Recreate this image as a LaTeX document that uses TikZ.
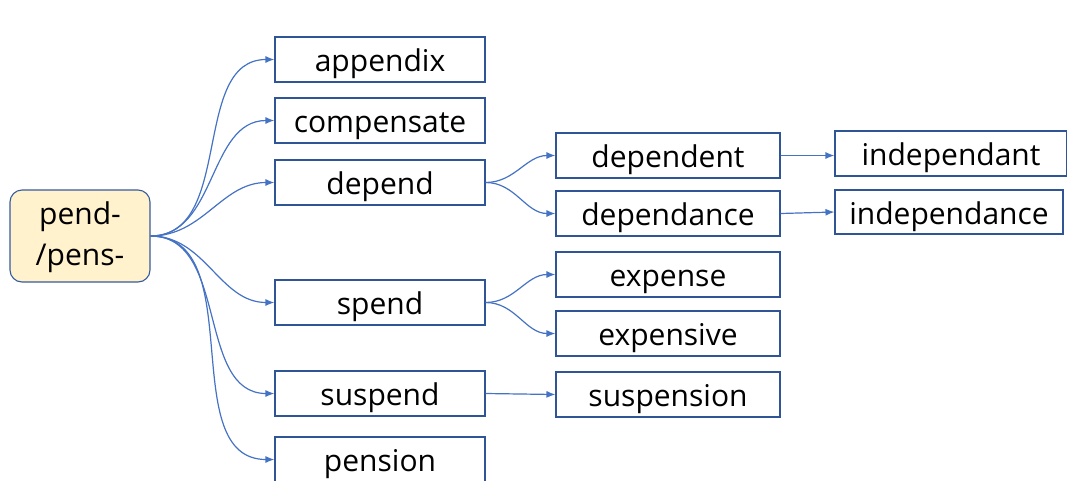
\documentclass[tikz,border=0pt]{standalone}
\usepackage{fontspec}
\setmainfont{Open Sans}
\usepackage{tikz}
\usetikzlibrary{arrows.meta,positioning}
\definecolor{boxblue}{HTML}{2F5597}
\definecolor{linkblue}{HTML}{4472C4}
\definecolor{rootfill}{HTML}{FFF2CC}
\tikzset{
  rootbox/.style={draw=linkblue!80!black,fill=rootfill,rounded corners=12pt,align=center,
    minimum width=140pt,minimum height=92pt,inner sep=0pt,line width=1.1pt,
    text depth=4pt,font=\fontsize{30}{41}\selectfont},
  wordbox/.style={draw=boxblue,fill=white,align=center,minimum width=210pt,
    minimum height=45pt,inner sep=0pt,line width=1.1pt,text height=24pt,text depth=0pt,
    font=\fontsize{30}{34}\selectfont},
  widebox/.style={wordbox,minimum width=224pt},
  branch/.style={-{Latex[length=9pt,width=7pt]},draw=linkblue,line width=1.2pt},
  fan/.style={branch,out=0,in=180}
}
\begin{document}
\begin{tikzpicture}[x=1pt,y=-1pt]
  \useasboundingbox (0,0) rectangle (1067,480);
  % root
  \node[rootbox] (root) at (80,236) {pend-\\/pens-};
  % first column
  \node[wordbox] (appendix) at (380,59.5) {appendix};
  \node[wordbox] (compensate) at (380,120.5) {compensate};
  \node[wordbox] (depend) at (380,182.5) {depend};
  \node[wordbox] (spend) at (380,302.5) {spend};
  \node[wordbox] (suspend) at (380,393.5) {suspend};
  \node[wordbox] (pension) at (380,459.5) {pension};
  % second column
  \node[widebox] (dependent) at (668,155.5) {dependent};
  \node[widebox] (dependance) at (668,213.5) {dependance};
  \node[widebox] (expense) at (668,274.5) {expense};
  \node[widebox] (expensive) at (668,333.5) {expensive};
  \node[widebox] (suspension) at (668,394.5) {suspension};
  % third column
  \node[wordbox,minimum width=232pt] (independant) at (951,153.5) {independant};
  \node[wordbox,minimum width=228pt,minimum height=44pt] (independance) at (949,212) {independance};
  % links
  \foreach \to in {appendix,compensate,depend,spend,suspend,pension}
    \draw[fan] (root.east) to (\to.west);
  \foreach \to in {dependent,dependance}
    \draw[fan] (depend.east) to (\to.west);
  \foreach \to in {expense,expensive}
    \draw[fan] (spend.east) to (\to.west);
  \draw[branch] (suspend.east) -- (suspension.west);
  \draw[branch] (dependent.east) -- (dependent.east -| independant.west);
  \draw[branch] (dependance.east) -- (independance.west);
\end{tikzpicture}
\end{document}
